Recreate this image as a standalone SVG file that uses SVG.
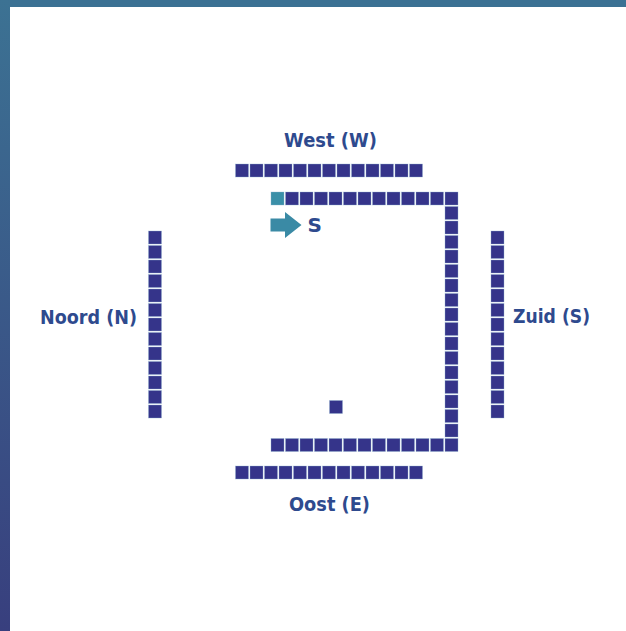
<svg xmlns="http://www.w3.org/2000/svg" xmlns:xlink="http://www.w3.org/1999/xlink" width="626" height="631" viewBox="0 0 626 631">
<defs>
<linearGradient id="frameGrad" x1="0" y1="0" x2="0" y2="1">
<stop offset="0" stop-color="#3c7293"/>
<stop offset="1" stop-color="#383f7e"/>
</linearGradient>
<rect id="sq" width="13" height="13" class="sq"/>
<style>
.sq{fill:#35348a;stroke:#8fb3d0;stroke-width:0.6;stroke-opacity:0.6}
.lbl{font-family:"DejaVu Sans","Liberation Sans",sans-serif;font-weight:bold;fill:#2e4a8e;font-size:20px}
</style>
</defs>
<rect x="0" y="0" width="626" height="631" fill="#ffffff"/>
<g id="frame">
<rect x="0" y="0" width="626" height="7" fill="#3b7193"/>
<rect x="0" y="0" width="10" height="631" fill="url(#frameGrad)"/>
</g>
<g id="west-row">
<use xlink:href="#sq" x="235.5" y="164"/><use xlink:href="#sq" x="250" y="164"/><use xlink:href="#sq" x="264.5" y="164"/><use xlink:href="#sq" x="279" y="164"/><use xlink:href="#sq" x="293.5" y="164"/><use xlink:href="#sq" x="308" y="164"/><use xlink:href="#sq" x="322.5" y="164"/><use xlink:href="#sq" x="337" y="164"/><use xlink:href="#sq" x="351.5" y="164"/><use xlink:href="#sq" x="366" y="164"/><use xlink:href="#sq" x="380.5" y="164"/><use xlink:href="#sq" x="395" y="164"/><use xlink:href="#sq" x="409.5" y="164"/>
</g>
<g id="oost-row">
<use xlink:href="#sq" x="235.5" y="466"/><use xlink:href="#sq" x="250" y="466"/><use xlink:href="#sq" x="264.5" y="466"/><use xlink:href="#sq" x="279" y="466"/><use xlink:href="#sq" x="293.5" y="466"/><use xlink:href="#sq" x="308" y="466"/><use xlink:href="#sq" x="322.5" y="466"/><use xlink:href="#sq" x="337" y="466"/><use xlink:href="#sq" x="351.5" y="466"/><use xlink:href="#sq" x="366" y="466"/><use xlink:href="#sq" x="380.5" y="466"/><use xlink:href="#sq" x="395" y="466"/><use xlink:href="#sq" x="409.5" y="466"/>
</g>
<g id="noord-col">
<use xlink:href="#sq" x="148.5" y="231"/><use xlink:href="#sq" x="148.5" y="245.5"/><use xlink:href="#sq" x="148.5" y="260"/><use xlink:href="#sq" x="148.5" y="274.5"/><use xlink:href="#sq" x="148.5" y="289"/><use xlink:href="#sq" x="148.5" y="303.5"/><use xlink:href="#sq" x="148.5" y="318"/><use xlink:href="#sq" x="148.5" y="332.5"/><use xlink:href="#sq" x="148.5" y="347"/><use xlink:href="#sq" x="148.5" y="361.5"/><use xlink:href="#sq" x="148.5" y="376"/><use xlink:href="#sq" x="148.5" y="390.5"/><use xlink:href="#sq" x="148.5" y="405"/>
</g>
<g id="zuid-col">
<use xlink:href="#sq" x="491" y="231"/><use xlink:href="#sq" x="491" y="245.5"/><use xlink:href="#sq" x="491" y="260"/><use xlink:href="#sq" x="491" y="274.5"/><use xlink:href="#sq" x="491" y="289"/><use xlink:href="#sq" x="491" y="303.5"/><use xlink:href="#sq" x="491" y="318"/><use xlink:href="#sq" x="491" y="332.5"/><use xlink:href="#sq" x="491" y="347"/><use xlink:href="#sq" x="491" y="361.5"/><use xlink:href="#sq" x="491" y="376"/><use xlink:href="#sq" x="491" y="390.5"/><use xlink:href="#sq" x="491" y="405"/>
</g>
<g id="box">
<rect x="271" y="192" width="13" height="13" fill="#3a8fa8" stroke="#8fb3d0" stroke-width="0.6" stroke-opacity="0.6"/>
<use xlink:href="#sq" x="285.5" y="192"/><use xlink:href="#sq" x="300" y="192"/><use xlink:href="#sq" x="314.5" y="192"/><use xlink:href="#sq" x="329" y="192"/><use xlink:href="#sq" x="343.5" y="192"/><use xlink:href="#sq" x="358" y="192"/><use xlink:href="#sq" x="372.5" y="192"/><use xlink:href="#sq" x="387" y="192"/><use xlink:href="#sq" x="401.5" y="192"/><use xlink:href="#sq" x="416" y="192"/><use xlink:href="#sq" x="430.5" y="192"/><use xlink:href="#sq" x="445" y="192"/>
<use xlink:href="#sq" x="445" y="206.5"/><use xlink:href="#sq" x="445" y="221"/><use xlink:href="#sq" x="445" y="235.5"/><use xlink:href="#sq" x="445" y="250"/><use xlink:href="#sq" x="445" y="264.5"/><use xlink:href="#sq" x="445" y="279"/><use xlink:href="#sq" x="445" y="293.5"/><use xlink:href="#sq" x="445" y="308"/><use xlink:href="#sq" x="445" y="322.5"/><use xlink:href="#sq" x="445" y="337"/><use xlink:href="#sq" x="445" y="351.5"/><use xlink:href="#sq" x="445" y="366"/><use xlink:href="#sq" x="445" y="380.5"/><use xlink:href="#sq" x="445" y="395"/><use xlink:href="#sq" x="445" y="409.5"/><use xlink:href="#sq" x="445" y="424"/><use xlink:href="#sq" x="445" y="438.5"/>
<use xlink:href="#sq" x="271" y="438.5"/><use xlink:href="#sq" x="285.5" y="438.5"/><use xlink:href="#sq" x="300" y="438.5"/><use xlink:href="#sq" x="314.5" y="438.5"/><use xlink:href="#sq" x="329" y="438.5"/><use xlink:href="#sq" x="343.5" y="438.5"/><use xlink:href="#sq" x="358" y="438.5"/><use xlink:href="#sq" x="372.5" y="438.5"/><use xlink:href="#sq" x="387" y="438.5"/><use xlink:href="#sq" x="401.5" y="438.5"/><use xlink:href="#sq" x="416" y="438.5"/><use xlink:href="#sq" x="430.5" y="438.5"/>
</g>
<g id="single">
<use xlink:href="#sq" x="329.5" y="400.5"/>
</g>
<g id="arrow">
<polygon points="270.5,218.5 285,218.5 285,212 301.5,225 285,238 285,231.5 270.5,231.5" fill="#3a8aa5"/>
</g>
<g id="labels">
<text class="lbl" x="330.5" y="147" text-anchor="middle" textLength="93" lengthAdjust="spacingAndGlyphs">West (W)</text>
<text class="lbl" x="88.5" y="323.5" text-anchor="middle" textLength="97" lengthAdjust="spacingAndGlyphs">Noord (N)</text>
<text class="lbl" x="551.5" y="322.5" text-anchor="middle" textLength="77" lengthAdjust="spacingAndGlyphs">Zuid (S)</text>
<text class="lbl" x="329.5" y="510.5" text-anchor="middle" textLength="81" lengthAdjust="spacingAndGlyphs">Oost (E)</text>
<text class="lbl" x="307.5" y="232">S</text>
</g>
</svg>
